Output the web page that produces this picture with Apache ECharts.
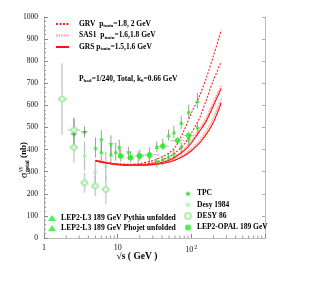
<!DOCTYPE html>
<html><head><meta charset="utf-8">
<script src="https://cdn.jsdelivr.net/npm/echarts@6/dist/echarts.min.js"></script>
<style>html,body{margin:0;padding:0;background:#fff}#c{width:309px;height:295px}</style>
</head><body><div id="c"></div>
<script>
// ---- model curves (sqrt s in GeV, sigma in nb) ----
const curveW = [5, 7, 10, 15, 20, 30, 40, 50, 60, 80, 100, 130, 160, 200, 255];
const grvA  = [352, 342, 336, 334, 337, 350, 368, 385, 410, 488, 565, 645, 725, 825, 941];
const grvB  = [351, 341, 334, 331, 332, 340, 352, 367, 385, 425, 475, 545, 625, 715, 798];
const sasA  = [350, 340, 333, 330, 331, 337, 345, 356, 370, 402, 440, 495, 545, 615, 690];
const sasB  = [349, 339, 332, 329, 330, 334, 339, 347, 356, 378, 405, 443, 485, 545, 630];
const grsA  = [350, 340, 333, 330, 331, 335, 342, 352, 365, 395, 430, 484, 530, 600, 677];
const grsB  = [349, 339, 332, 329, 329, 332, 337, 344, 352, 372, 395, 430, 470, 525, 612];

// ---- data sets ----
const tpcW = [2.55, 3.55];
const tpcS = [470, 480];
const tpcErr = [72, 25];

const desy84W = [3.55, 4.95, 6.9];
const desy84S = [371, 296, 326];
const desy84Err = [65, 50, 65];

const desy86W = [1.76, 2.55, 2.55, 3.55, 4.95, 6.9];
const desy86S = [629, 489, 410, 250, 235, 220];
const desy86Err = [162, 55, 68, 45, 45, 65];
const desy86WLo = [1.53, 2.1, 2.2, 3.1, 4.4, 6.0];
const desy86WHi = [2.08, 3.1, 2.9, 4.0, 5.5, 7.8];

const l3PyW = [5.0, 6.0, 8.1, 9.4, 11, 15, 20, 27, 34, 41, 49, 58, 73, 92, 121];
const l3PyS = [410, 390, 380, 390, 375, 368, 375, 385, 413, 424, 466, 480, 523, 572, 621];
const l3PyErr = [45, 45, 40, 40, 30, 25, 25, 25, 25, 25, 25, 28, 30, 32, 35];

const l3PhW = [6.0, 8.1, 10.5, 14, 19, 27, 34, 41, 49, 58, 73, 92, 121];
const l3PhS = [440, 420, 405, 382, 368, 362, 341, 350, 360, 375, 405, 440, 493];
const l3PhErr = [50, 45, 40, 30, 25, 25, 22, 22, 22, 25, 28, 30, 32];

const opalW = [11, 15, 20, 27, 41, 65, 92];
const opalS = [371, 363, 371, 376, 415, 441, 464];
const opalErr = [18, 15, 15, 15, 15, 18, 20];
const opalWLo = [10, 13, 17, 19, 32, 52, 78];
const opalWHi = [12.5, 17, 23, 37, 50, 80, 110];

// ---- axis ticks ----
const xMajorLabels = {1: '1', 10: '10', 100: '10{sup|2}'};
const xMinorTicks = [2,3,4,5,6,7,8,9,20,30,40,50,60,70,80,90,200,300,400,500,600,700,800,900];

const FONT = 'Liberation Serif';
const GREEN = '#22ee22';
const LGREEN = '#99f099';

function pairs(xs, ys){ return xs.map((x,i)=>[x, ys[i]]); }
function errRows(xs, ys, e, xlo, xhi){
  return xs.map((x,i)=>[x, ys[i], ys[i]-e[i], ys[i]+e[i], xlo ? xlo[i] : x, xhi ? xhi[i] : x]);
}
function errRender(color, width){
  return function(params, api){
    const x = api.value(0), y = api.value(1), ylo = api.value(2), yhi = api.value(3), xlo = api.value(4), xhi = api.value(5);
    const ch = [];
    if (yhi > ylo){
      const a = api.coord([x, ylo]), b = api.coord([x, yhi]);
      ch.push({type:'line', shape:{x1:a[0], y1:a[1], x2:b[0], y2:b[1]}, style:{stroke:color, lineWidth:width}});
    }
    if (xhi > xlo){
      const a = api.coord([xlo, y]), b = api.coord([xhi, y]);
      ch.push({type:'line', shape:{x1:a[0], y1:a[1], x2:b[0], y2:b[1]}, style:{stroke:color, lineWidth:width}});
    }
    return {type:'group', children:ch};
  };
}
function errSeries(name, rows, color, width){
  return {name, type:'custom', data: rows, renderItem: errRender(color, width), silent:true, z:3,
    dimensions:['x','y','ylo','yhi','xlo','xhi'], encode:{x:0, y:1}};
}
function lineSeries(name, ys, color, type, width){
  return {name, type:'line', data: pairs(curveW, ys), showSymbol:false, symbol:'none', smooth:0.3,
    lineStyle:{color, type, width}, itemStyle:{color}, z:4, silent:true};
}

const starPath = 'path://M50,0 L61,35 L98,35 L68,57 L79,91 L50,70 L21,91 L32,57 L2,35 L39,35 Z';
const asterPath = 'path://M44,0H56V100H44Z M0,44H100V56H0Z M10,18 L18,10 L90,82 L82,90Z M82,10 L90,18 L18,90 L10,82Z';

const chart = echarts.init(document.getElementById('c'), null, {renderer:'canvas'});

const subRich = {
  n: {fontFamily:FONT, fontWeight:'bold', fontSize:7.5, color:'#000', lineHeight:9},
  sub: {fontFamily:FONT, fontWeight:'bold', fontSize:5, color:'#000', verticalAlign:'bottom', lineHeight:9, padding:[3,0,0,0]},
  g: {width:5}
};

const option = {
  animation:false,
  backgroundColor:'#fff',
  grid:{left:44, right:44, top:17, bottom:57},
  xAxis:[{
    type:'log', logBase:10, min:1, max:1000,
    axisLine:{show:true, lineStyle:{color:'#aaa', width:1}},
    axisTick:{show:true, inside:true, length:4, lineStyle:{color:'#888'}},
    splitLine:{show:false},
    axisLabel:{fontFamily:FONT, fontSize:8, color:'#111', margin:6,
      formatter: v => xMajorLabels[Math.round(v)] || '',
      rich:{sup:{fontFamily:FONT, fontSize:6, color:'#111', verticalAlign:'top', padding:[0,0,6,1]}}}
  },{
    type:'log', logBase:10, min:1, max:1000, position:'top',
    axisLine:{show:true, lineStyle:{color:'#bbb', width:1}},
    axisTick:{show:false}, axisLabel:{show:false}, splitLine:{show:false}
  }],
  yAxis:[{
    type:'value', min:0, max:1000, interval:100,
    axisLine:{show:true, lineStyle:{color:'#aaa', width:1}},
    axisTick:{show:true, inside:true, length:4, lineStyle:{color:'#888'}},
    minorTick:{show:true, splitNumber:5, length:2, lineStyle:{color:'#999'}},
    splitLine:{show:false},
    axisLabel:{fontFamily:FONT, fontSize:7.5, color:'#111', margin:6, formatter: v => String(v)}
  },{
    type:'value', min:0, max:1000, interval:100, position:'right',
    axisLine:{show:true, lineStyle:{color:'#bbb', width:1}},
    axisTick:{show:true, inside:true, length:3, lineStyle:{color:'#aaa'}},
    axisLabel:{show:false}, splitLine:{show:false}
  }],
  legend:[{
    data:['GRV','SAS1','GRS'], left:55, top:20, orient:'vertical', padding:0,
    itemWidth:13, itemHeight:8, itemGap:3, selectedMode:false,
    itemStyle:{opacity:0},
    textStyle:{fontFamily:FONT, fontWeight:'bold', fontSize:7.5, color:'#000', rich:subRich},
    formatter: function(name){
      const t = {GRV:'GRV  ', SAS1:'SAS1  ', GRS:'GRS '}[name];
      const v = {GRV:'=1.8, 2 GeV', SAS1:'=1.6,1.8 GeV', GRS:'=1.5,1.6 GeV'}[name];
      return '{g|}{n|' + t + 'p}{sub|tmin}{n|' + v + '}';
    }
  },{
    data:['LEP2-L3 189 GeV Pythia unfolded','LEP2-L3 189 GeV Phojet unfolded'],
    left:48, top:214, orient:'vertical', padding:0, itemWidth:8, itemHeight:6, itemGap:2.2, selectedMode:false,
    textStyle:{fontFamily:FONT, fontWeight:'bold', fontSize:7.7, color:'#000'}
  },{
    data:['TPC','Desy 1984','DESY 86','LEP2-OPAL 189 GeV'],
    left:184, top:189.5, orient:'vertical', padding:0, itemWidth:8, itemHeight:6, itemGap:3.3, selectedMode:false,
    textStyle:{fontFamily:FONT, fontWeight:'bold', fontSize:7.5, color:'#000'}
  }],
  graphic:[
    {type:'text', left:79, top:75, silent:true,
      style:{rich:subRich, text:'{n|P}{sub|had}{n|=1/240, Total, k}{sub|0}{n|=0.66 GeV}'}},
    {type:'text', x:137, y:257, silent:true,
      style:{text:'√s ( GeV )', fontFamily:FONT, fontWeight:'bold', fontSize:9.5, fill:'#000',
        textAlign:'center', textVerticalAlign:'middle', align:'center', verticalAlign:'middle'}},
    {type:'group', x:24, y:178, rotation:Math.PI/2, silent:true, children:[
      {type:'text', x:0, y:0, style:{text:'σ', fontFamily:FONT, fontSize:10, fill:'#000',
        textAlign:'left', textVerticalAlign:'middle', align:'left', verticalAlign:'middle'}},
      {type:'text', x:6, y:-4, style:{text:'γγ', fontFamily:FONT, fontSize:6, fill:'#000',
        textAlign:'left', textVerticalAlign:'middle', align:'left', verticalAlign:'middle'}},
      {type:'text', x:6, y:3.5, style:{text:'total', fontFamily:FONT, fontWeight:'bold', fontSize:6, fill:'#000',
        textAlign:'left', textVerticalAlign:'middle', align:'left', verticalAlign:'middle'}},
      {type:'text', x:20, y:0, style:{text:'(nb)', fontFamily:FONT, fontWeight:'bold', fontSize:9, fill:'#000',
        textAlign:'left', textVerticalAlign:'middle', align:'left', verticalAlign:'middle'}}
    ]}
  ],
  series:[
    // minor log ticks on x axis
    {name:'xminor', type:'custom', data: xMinorTicks.map(v=>[v,0]), silent:true, clip:false, z:2,
      encode:{x:0, y:1},
      renderItem:function(p, api){
        const c = api.coord([api.value(0), 0]);
        return {type:'line', shape:{x1:c[0], y1:c[1], x2:c[0], y2:c[1]-2.5}, style:{stroke:'#999', lineWidth:1}};
      }},
    // error bars
    errSeries('e86', errRows(desy86W, desy86S, desy86Err, desy86WLo, desy86WHi), '#cfcfcf', 1.6),
    errSeries('e84', errRows(desy84W, desy84S, desy84Err), '#bdbdbd', 1.2),
    errSeries('etpc', errRows(tpcW, tpcS, tpcErr, [2.3, 3.2], [2.8, 3.9]), '#777', 0.8),
    errSeries('epy', errRows(l3PyW, l3PyS, l3PyErr), '#888', 0.8),
    errSeries('eph', errRows(l3PhW, l3PhS, l3PhErr), '#888', 0.8),
    errSeries('eop', errRows(opalW, opalS, opalErr, opalWLo, opalWHi), '#c4c4c4', 1.2),
    // model curves
    lineSeries('SAS1', sasA, '#ff9a9a', [1.5,1], 1.6),
    lineSeries('SAS1', sasB, '#ff9a9a', [1.5,1], 1.6),
    lineSeries('GRS', grsA, '#ff1010', 'solid', 1.1),
    lineSeries('GRS', grsB, '#ff1010', 'solid', 1.1),
    lineSeries('GRV', grvA, '#ff2020', [2,1.5], 1.1),
    lineSeries('GRV', grvB, '#ff2020', [2,1.5], 1.1),
    // data points
    {name:'DESY 86', type:'scatter', data:pairs(desy86W, desy86S), symbol:'emptyCircle', symbolSize:5,
      itemStyle:{color:LGREEN, borderColor:LGREEN, borderWidth:1}, z:5},
    {name:'Desy 1984', type:'scatter', data:pairs(desy84W, desy84S), symbol:asterPath, symbolSize:5,
      itemStyle:{color:LGREEN}, z:5},
    {name:'TPC', type:'scatter', data:pairs(tpcW, tpcS), symbol:starPath, symbolSize:5,
      itemStyle:{color:'#11cc11'}, z:6},
    {name:'LEP2-L3 189 GeV Pythia unfolded', type:'scatter', data:pairs(l3PyW, l3PyS), symbol:'triangle', symbolSize:4.5,
      itemStyle:{color:GREEN}, z:6},
    {name:'LEP2-L3 189 GeV Phojet unfolded', type:'scatter', data:pairs(l3PhW, l3PhS), symbol:'triangle', symbolRotate:180, symbolSize:4.5,
      itemStyle:{color:GREEN}, z:6},
    {name:'LEP2-OPAL 189 GeV', type:'scatter', data:pairs(opalW, opalS), symbol:'circle', symbolSize:5.5,
      itemStyle:{color:GREEN}, z:6}
  ]
};
chart.setOption(option);
</script>
</body></html>
